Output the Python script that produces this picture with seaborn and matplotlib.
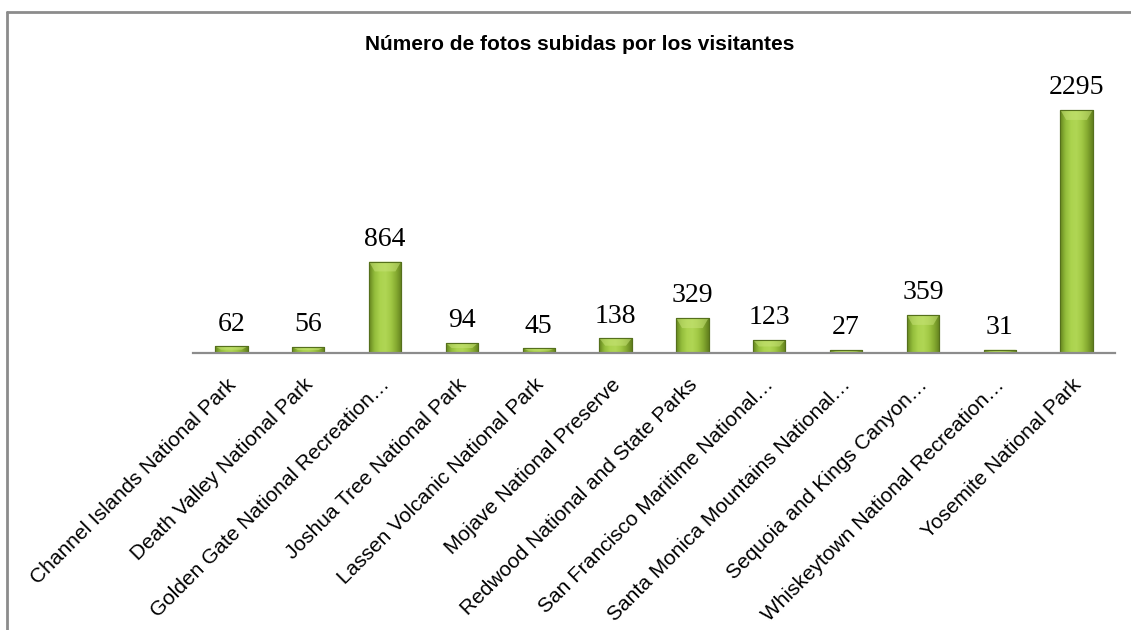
import numpy as np
import pandas as pd
import matplotlib
matplotlib.use("Agg")
import matplotlib.pyplot as plt
import matplotlib.transforms as mtransforms
from matplotlib.colors import LinearSegmentedColormap
from matplotlib.lines import Line2D
import seaborn as sns

parks = [
    "Channel Islands National Park",
    "Death Valley National Park",
    "Golden Gate National Recreation…",
    "Joshua Tree National Park",
    "Lassen Volcanic National Park",
    "Mojave National Preserve",
    "Redwood National and State Parks",
    "San Francisco Maritime National…",
    "Santa Monica Mountains National…",
    "Sequoia and Kings Canyon…",
    "Whiskeytown National Recreation…",
    "Yosemite National Park",
]
photos = [62, 56, 864, 94, 45, 138, 329, 123, 27, 359, 31, 2295]
title = "Número de fotos subidas por los visitantes"

df = pd.DataFrame({"park": parks, "photos": photos})

sns.set_theme(style="white")
plt.rcParams["font.family"] = ["Liberation Sans", "DejaVu Sans"]

fig = plt.figure(figsize=(11.31, 6.30), dpi=100)
ax = fig.add_axes([193 / 1131, 1 - 353 / 630, (1115 - 193) / 1131, (353 - 70) / 630])

sns.barplot(data=df, x="park", y="photos", ax=ax, color="#9BC23C",
            width=0.42, edgecolor="#55701C", linewidth=0.8)

# green cylinder-like shading across each bar
shade = LinearSegmentedColormap.from_list(
    "bar_shade",
    ["#66861F", "#94BE3C", "#ABD34E", "#B0D655", "#A2C945", "#86AB31", "#62801E"],
)
grad = np.linspace(0, 1, 64).reshape(1, -1)
ymax = 2673
for p in ax.patches:
    x0, y0 = p.get_x(), p.get_y()
    w, h = p.get_width(), p.get_height()
    im = ax.imshow(grad, cmap=shade, aspect="auto", extent=[x0, x0 + w, y0, y0 + h],
                   zorder=p.get_zorder() + 0.1, interpolation="bicubic")
    im.set_clip_path(p)
    # lighter chamfer at the top of the bar
    bevel = min(h * 0.5, ymax * 0.035)
    ax.fill([x0, x0 + w, x0 + w * 0.82, x0 + w * 0.18], [y0 + h, y0 + h, y0 + h - bevel, y0 + h - bevel],
            color="#C6E276", alpha=0.55, zorder=p.get_zorder() + 0.2, lw=0)
    ax.add_patch(plt.Rectangle((x0, y0), w, h, fill=False, edgecolor="#55701C",
                               lw=0.8, zorder=p.get_zorder() + 0.3))

ax.bar_label(ax.containers[0], labels=[str(v) for v in photos], padding=7,
             fontsize=20, family="Liberation Serif", color="black")

ax.set_xlim(-0.5, len(parks) - 0.5)
ax.set_ylim(0, ymax)
ax.set_xlabel("")
ax.set_ylabel("")
ax.set_yticks([])
for s in ["top", "right", "left"]:
    ax.spines[s].set_visible(False)
ax.spines["bottom"].set_color("#8C8C8C")
ax.spines["bottom"].set_linewidth(1.6)
ax.tick_params(axis="x", length=0, pad=16)
shift = mtransforms.ScaledTranslation(-5 / 100, 0, fig.dpi_scale_trans)
for lbl in ax.get_xticklabels():
    lbl.set_rotation(45)
    lbl.set_ha("right")
    lbl.set_rotation_mode("anchor")
    lbl.set_fontsize(15)
    lbl.set_color("black")
    lbl.set_transform(lbl.get_transform() + shift)

fig.text(580 / 1131, 1 - 45 / 630, title, ha="center", va="center",
         fontsize=15, fontweight="bold", color="black")

# outer chart frame (left and top edges)
fig.add_artist(Line2D([7 / 1131, 7 / 1131], [0, 1 - 12 / 630], color="#8C8C8C", lw=2,
                      transform=fig.transFigure))
fig.add_artist(Line2D([7 / 1131, 1], [1 - 12 / 630, 1 - 12 / 630], color="#8C8C8C", lw=2,
                      transform=fig.transFigure))

fig.savefig("out.png", dpi=100, facecolor="white")
